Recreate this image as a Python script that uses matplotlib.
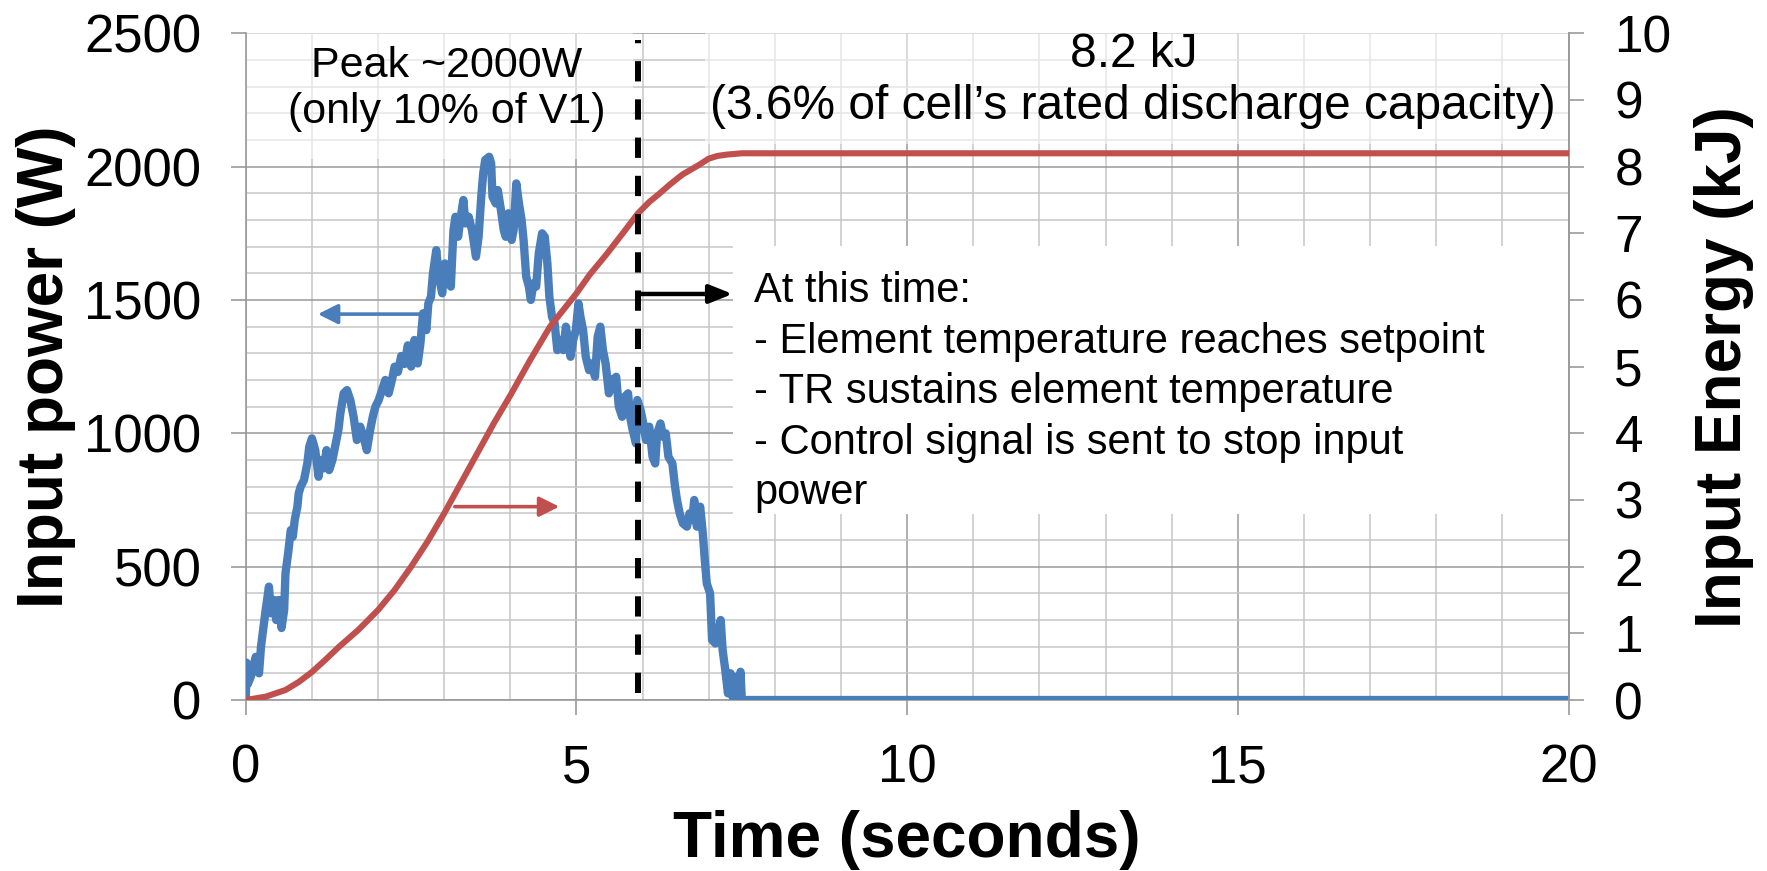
import matplotlib.pyplot as plt
from matplotlib.patches import Rectangle
from matplotlib.ticker import MultipleLocator

plt.rcParams['font.family'] = ['Liberation Sans', 'DejaVu Sans']

# input power trace (time in s, power in W)
power_t = [0, 0.01, 0.03, 0.075, 0.15, 0.2, 0.23, 0.28, 0.3, 0.35, 0.38, 0.43, 0.46, 0.5, 0.54,
           0.58, 0.6, 0.64, 0.68, 0.71, 0.74, 0.78, 0.8, 0.83, 0.88, 0.93, 0.96, 1.0, 1.05, 1.1,
           1.13, 1.18, 1.22, 1.26, 1.31, 1.36, 1.4, 1.43, 1.48, 1.53, 1.58, 1.63, 1.68, 1.73, 1.78,
           1.83, 1.88, 1.92, 1.96, 2.01, 2.06, 2.11, 2.16, 2.21, 2.25, 2.3, 2.35, 2.4, 2.45, 2.5,
           2.55, 2.6, 2.64, 2.68, 2.73, 2.76, 2.8, 2.83, 2.88, 2.92, 2.97, 3.01, 3.05, 3.1, 3.14,
           3.17, 3.21, 3.25, 3.29, 3.32, 3.37, 3.42, 3.48, 3.52, 3.56, 3.59, 3.62, 3.68, 3.71, 3.73,
           3.78, 3.81, 3.85, 3.9, 3.93, 3.97, 4.02, 4.05, 4.09, 4.13, 4.17, 4.2, 4.24, 4.28, 4.31,
           4.35, 4.39, 4.43, 4.48, 4.52, 4.56, 4.59, 4.63, 4.67, 4.71, 4.76, 4.8, 4.84, 4.88, 4.91,
           4.95, 4.99, 5.03, 5.06, 5.1, 5.14, 5.19, 5.23, 5.28, 5.32, 5.36, 5.4, 5.44, 5.49, 5.54,
           5.6, 5.64, 5.69, 5.73, 5.78, 5.81, 5.85, 5.9, 5.92, 5.97, 6.02, 6.05, 6.1, 6.15, 6.19,
           6.22, 6.27, 6.31, 6.35, 6.39, 6.45, 6.49, 6.52, 6.56, 6.61, 6.67, 6.71, 6.75, 6.78, 6.82,
           6.87, 6.91, 6.94, 6.97, 7.02, 7.05, 7.1, 7.14, 7.18, 7.21, 7.25, 7.29, 7.33, 7.36, 7.4,
           7.44, 7.48, 7.5, 20]
power_w = [0, 140, 60, 87, 162, 100, 200, 300, 337, 425, 325, 375, 300, 375, 270,
           337, 475, 550, 637, 612, 675, 725, 775, 800, 825, 887, 950, 981, 937, 837,
           900, 869, 937, 862, 900, 962, 1012, 1075, 1150, 1162, 1125, 1062, 975, 1025, 987,
           937, 1012, 1062, 1100, 1125, 1162, 1200, 1150, 1200, 1250, 1230, 1290, 1260, 1330, 1250,
           1350, 1262, 1337, 1450, 1387, 1487, 1512, 1600, 1687, 1587, 1525, 1637, 1600, 1550, 1762,
           1812, 1737, 1812, 1875, 1787, 1812, 1762, 1662, 1737, 1887, 1975, 2025, 2037, 2012, 1887,
           1862, 1912, 1850, 1762, 1737, 1825, 1725, 1762, 1937, 1862, 1800, 1725, 1587, 1550, 1500,
           1562, 1550, 1675, 1750, 1737, 1637, 1512, 1437, 1412, 1312, 1350, 1312, 1400, 1337, 1287,
           1350, 1387, 1487, 1437, 1387, 1287, 1237, 1262, 1212, 1362, 1400, 1312, 1262, 1150, 1200,
           1212, 1100, 1062, 1137, 1150, 1062, 1012, 962, 1125, 1087, 1025, 975, 1025, 912, 887,
           1000, 1037, 987, 1000, 912, 887, 800, 750, 700, 662, 650, 700, 675, 750, 650,
           725, 625, 525, 437, 400, 225, 212, 250, 300, 187, 112, 25, 100, 12, 87,
           0, 106, 0, 0]

# cumulative input energy (kJ)
energy_t = [0, 0.3, 0.6, 0.8, 1.0, 1.2, 1.4, 1.7, 2.0, 2.25, 2.5, 2.75, 3.0, 3.25, 3.5,
            3.75, 4.0, 4.3, 4.6, 5.0, 5.2, 5.45, 5.7, 5.93, 6.1, 6.26, 6.41, 6.6, 6.86, 7.0,
            7.13, 7.27, 7.5, 20]
energy_kj = [0, 0.05, 0.15, 0.27, 0.42, 0.6, 0.79, 1.05, 1.35, 1.65, 2.0, 2.38, 2.8, 3.25, 3.7,
             4.15, 4.57, 5.1, 5.6, 6.1, 6.38, 6.68, 7.0, 7.3, 7.47, 7.6, 7.73, 7.88, 8.03, 8.12,
             8.16, 8.18, 8.2, 8.2]

stop_time = 5.93
peak_note = 'Peak ~2000W\n(only 10% of V1)'
energy_note = '8.2 kJ\n(3.6% of cell\u2019s rated discharge capacity)'
event_note = ('At this time:\n- Element temperature reaches setpoint\n'
              '- TR sustains element temperature\n- Control signal is sent to stop input\npower')

BLUE = '#4a7ebb'
RED = '#c0504d'
GRID_MAJOR = '#9a9a9a'
GRID_MINOR = '#c6c6c6'

fig = plt.figure(figsize=(17.67, 8.71), dpi=100)
ax = fig.add_axes([0.1391, 0.1963, 0.7486, 0.7655])
ax2 = ax.twinx()

ax.set_xlim(0, 20)
ax.set_ylim(0, 2500)
ax2.set_ylim(0, 10)
ax.xaxis.set_major_locator(MultipleLocator(5))
ax.xaxis.set_minor_locator(MultipleLocator(1))
ax.yaxis.set_major_locator(MultipleLocator(500))
ax.yaxis.set_minor_locator(MultipleLocator(100))
ax2.yaxis.set_major_locator(MultipleLocator(1))

ax.grid(which='major', color=GRID_MAJOR, lw=1.1)
ax.grid(which='minor', color=GRID_MINOR, lw=1.1)
ax.tick_params(which='minor', length=0)
ax.tick_params(which='major', direction='out', length=11, width=1.2, color=GRID_MAJOR,
               labelsize=38)
ax.tick_params(axis='y', pad=21)
ax.tick_params(axis='x', pad=20)
ax2.tick_params(direction='out', length=11, width=1.2, color=GRID_MAJOR, labelsize=37, pad=22)

for a in (ax, ax2):
    a.spines['top'].set_visible(False)
    for s in ('left', 'right', 'bottom'):
        a.spines[s].set_color(GRID_MAJOR)
        a.spines[s].set_linewidth(1.2)
ax2.spines['left'].set_visible(False)
ax2.spines['bottom'].set_visible(False)

# white panels behind the notes
ax.add_patch(Rectangle((0, 2030), 5.85, 470, facecolor='white', alpha=0.55, lw=0, zorder=1.8))
ax.add_patch(Rectangle((6.95, 2085), 13.05, 415, facecolor='white', alpha=0.55, lw=0, zorder=1.8))
ax.add_patch(Rectangle((7.36, 699), 12.64, 1003, facecolor='white', lw=0, zorder=1.8))

ax.plot(power_t, power_w, color=BLUE, lw=6, solid_joinstyle='round', zorder=3)
ax2.plot(energy_t, energy_kj, color=RED, lw=4.4, solid_joinstyle='round', zorder=3)

ax2.axvline(stop_time, ymin=0.01, ymax=0.99, color='black', lw=4.3,
            linestyle=(0, (3.4, 3.0)), zorder=4)

head = '-|>,head_length=0.6,head_width=0.3'
ax.annotate('', xy=(1.09, 1447), xytext=(2.74, 1447),
            arrowprops=dict(arrowstyle=head, color=BLUE, lw=2.6, shrinkA=0, shrinkB=0,
                            mutation_scale=20), zorder=4)
ax2.annotate('', xy=(4.74, 2.9), xytext=(3.16, 2.9),
             arrowprops=dict(arrowstyle=head, color=RED, lw=2.6, shrinkA=0, shrinkB=0,
                             mutation_scale=20), zorder=4)
ax2.annotate('', xy=(7.36, 6.09), xytext=(stop_time, 6.09),
             arrowprops=dict(arrowstyle='-|>,head_length=0.7,head_width=0.28', color='black',
                             lw=3.2, shrinkA=0, shrinkB=0, mutation_scale=20), zorder=4)

ax2.text(3.04, 9.16, peak_note, fontsize=31, ha='center', va='center', linespacing=1.2)
ax2.text(13.42, 9.29, energy_note, fontsize=34.5, ha='center', va='center', linespacing=1.2)
ax2.text(7.69, 6.43, event_note, fontsize=30, ha='left', va='top', linespacing=1.34)

ax.set_xlabel('Time (seconds)', fontsize=46, fontweight='bold', labelpad=12)
ax.set_ylabel('Input power (W)', fontsize=46, fontweight='bold', labelpad=6)
ax2.set_ylabel('Input Energy (kJ)', fontsize=46, fontweight='bold', labelpad=16, rotation=90)

fig.savefig('out.png', dpi=100)
